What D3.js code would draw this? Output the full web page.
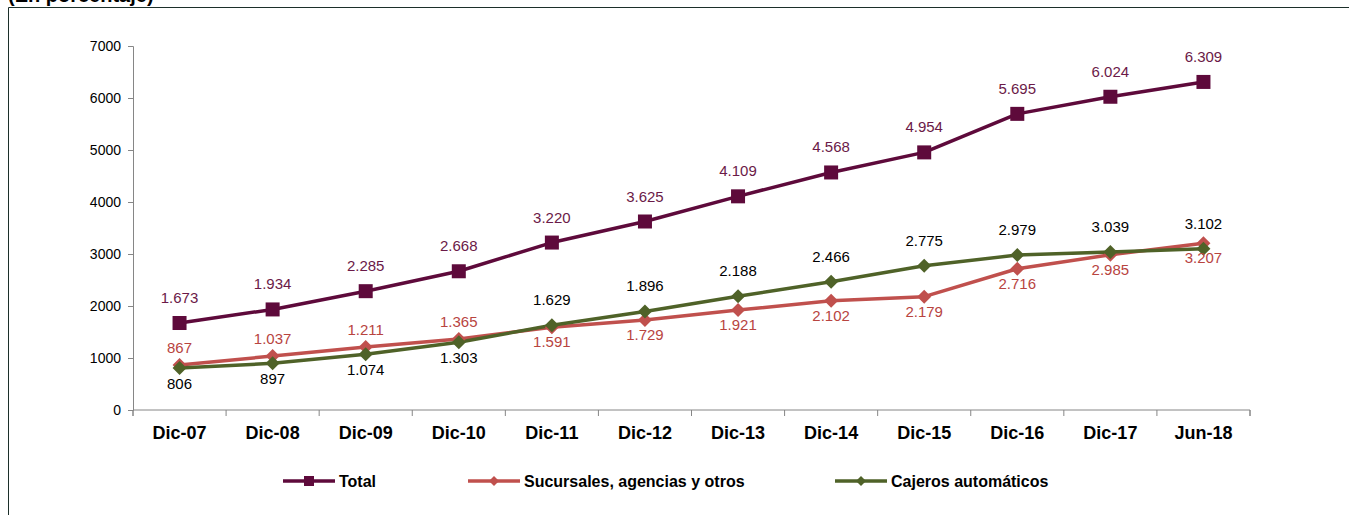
<!DOCTYPE html>
<html><head><meta charset="utf-8">
<script src="https://cdn.jsdelivr.net/npm/d3@7"></script>
<style>body{margin:0;background:#fff;}svg{display:block;font-family:"Liberation Sans",Arial,sans-serif;}</style>
</head><body>
<svg id="c" width="1349" height="515"></svg>
<script>
const categories = ["Dic-07","Dic-08","Dic-09","Dic-10","Dic-11","Dic-12","Dic-13","Dic-14","Dic-15","Dic-16","Dic-17","Jun-18"];
const total = [1673,1934,2285,2668,3220,3625,4109,4568,4954,5695,6024,6309];
const sucursales = [867,1037,1211,1365,1591,1729,1921,2102,2179,2716,2985,3207];
const cajeros = [806,897,1074,1303,1629,1896,2188,2466,2775,2979,3039,3102];
const yTicks = [0,1000,2000,3000,4000,5000,6000,7000];
const seriesNames = ["Total","Sucursales, agencias y otros","Cajeros automáticos"];

const svg = d3.select("#c");
const fmt = v => d3.format(",")(v).replace(/,/g,".");

// frame
svg.append("path").attr("d","M8.5,515 V7.5 H1349").attr("fill","none").attr("stroke","#1c2f2a").attr("stroke-width",1);
svg.append("text").attr("x",8).attr("y",2).attr("font-size",20).attr("font-weight","bold").attr("fill","#000").text("(En porcentaje)");

const x = d3.scaleBand().domain(categories).range([133,1250]);
const y = d3.scaleLinear().domain([0,7000]).range([410,46]);
const cx = c => x(c) + x.bandwidth()/2;

// y axis
const ya = svg.append("g").attr("transform","translate(133,0)")
  .call(d3.axisLeft(y).tickValues(yTicks).tickSize(5).tickPadding(7).tickFormat(d=>d));
ya.selectAll("path,line").attr("stroke","#868686");
ya.selectAll("text").attr("font-size",14).attr("fill","#000").attr("font-family","Liberation Sans, Arial");

// x axis
const xa = svg.append("g").attr("transform","translate(0,410)")
  .call(d3.axisBottom(x).tickSize(0).tickPadding(16).tickSizeOuter(0));
xa.select("path").attr("stroke","#868686").attr("d","M133,6V0H1250V6");
xa.selectAll("text").attr("font-size",18).attr("font-weight","bold").attr("fill","#000").attr("font-family","Liberation Sans, Arial");
const bounds = categories.map(c=>x(c)).concat([1250]);
svg.append("g").selectAll("line").data(bounds).join("line")
  .attr("x1",d=>d).attr("x2",d=>d).attr("y1",410).attr("y2",416).attr("stroke","#868686");

const series = [
  {name:seriesNames[0], values:total, color:"#5e0a3b", label:"#6b1a48", marker:"square"},
  {name:seriesNames[1], values:sucursales, color:"#c0504d", label:"#b8443f", marker:"diamond"},
  {name:seriesNames[2], values:cajeros, color:"#4f6228", label:"#000", marker:"diamond"}
];
const line = d3.line().x((d,i)=>cx(categories[i])).y(d=>y(d));

function marker(g, type, color){
  if(type==="square"){
    g.append("rect").attr("x",-7).attr("y",-7).attr("width",14).attr("height",14).attr("fill",color);
  } else {
    g.append("path").attr("d","M0,-7L7,0L0,7L-7,0Z").attr("fill",color);
  }
}

series.forEach((s)=>{
  svg.append("path").datum(s.values).attr("d",line).attr("fill","none")
    .attr("stroke",s.color).attr("stroke-width",3.5).attr("stroke-linejoin","round");
});
series.forEach((s)=>{
  s.values.forEach((v,i)=>{
    const g = svg.append("g").attr("transform",`translate(${cx(categories[i])},${y(v)})`);
    marker(g, s.marker, s.color);
  });
});
// labels
const last = categories.length-1;
series.forEach((s,si)=>{
  s.values.forEach((v,i)=>{
    let dy;
    if(si===0) dy = -20;
    else if(si===1) dy = (i<4) ? -12 : 20;
    else dy = (i<4) ? 21 : -20;
    if(si===1 && i===last) dy = 20;
    if(si===2 && i===last) dy = -20;
    svg.append("text").attr("x",cx(categories[i])).attr("y",y(v)+dy)
      .attr("text-anchor","middle").attr("font-size",15).attr("fill",s.label).text(fmt(v));
  });
});

// legend
const legPos = [283,468,835];
series.forEach((s,si)=>{
  const lx = legPos[si], ly = 481;
  svg.append("line").attr("x1",lx).attr("x2",lx+52).attr("y1",ly).attr("y2",ly)
    .attr("stroke",s.color).attr("stroke-width",3.5);
  const g = svg.append("g").attr("transform",`translate(${lx+26},${ly})`);
  if(s.marker==="square") g.append("rect").attr("x",-5).attr("y",-5).attr("width",10).attr("height",10).attr("fill",s.color);
  else g.append("path").attr("d","M0,-5L5,0L0,5L-5,0Z").attr("fill",s.color);
  svg.append("text").attr("x",lx+56).attr("y",ly+6).attr("font-size",16).attr("font-weight","bold").attr("fill","#000").text(s.name);
});
</script>
</body></html>
